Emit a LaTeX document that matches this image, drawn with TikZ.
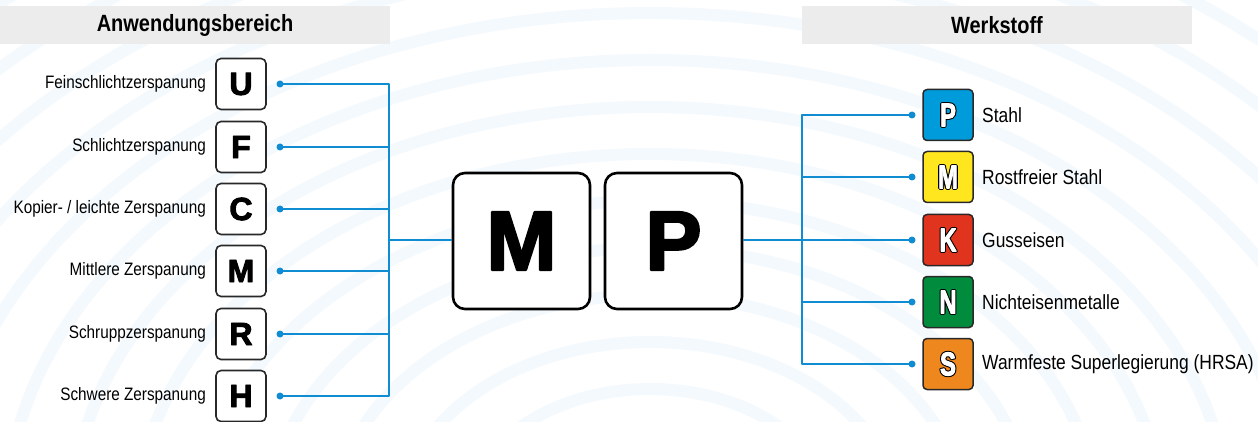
\documentclass[tikz,border=0pt]{standalone}
\usepackage{fontspec}
\setmainfont[FakeStretch=0.85]{Liberation Sans}
\newfontfamily\widefont{Liberation Sans}[BoldFeatures={FakeBold=3}]
\newfontfamily\condA{Liberation Sans}[FakeStretch=0.72, BoldFeatures={FakeBold=2.5}]
\newfontfamily\condB{Liberation Sans}[FakeStretch=0.72, BoldFeatures={FakeBold=9}]
\definecolor{linec}{RGB}{16,140,210}
\definecolor{hdrgray}{RGB}{236,236,236}
\definecolor{bgc}{RGB}{243,249,253}
\definecolor{cP}{RGB}{0,155,219}
\definecolor{cM}{RGB}{255,230,30}
\definecolor{cK}{RGB}{224,52,30}
\definecolor{cN}{RGB}{0,140,60}
\definecolor{cS}{RGB}{238,135,30}
\definecolor{bord}{RGB}{40,40,40}
\newcommand\olt[1]{\fontsize{33}{33}\bfseries\rlap{\condB\color{black}#1}{\condA\color{white}#1}}
\tikzset{
  hdr/.style={fill=hdrgray, minimum width=390pt, minimum height=38pt, inner sep=0pt,
     font=\bfseries\fontsize{23.5}{23.5}\selectfont},
  sbox/.style={draw=bord, line width=1.6pt, rounded corners=5pt, fill=white, line join=round,
     minimum width=50pt, minimum height=51pt, inner sep=0pt,
     font=\widefont\bfseries\fontsize{32}{32}\selectfont},
  bbox/.style={draw=black, line width=2.6pt, rounded corners=12pt, fill=white, line join=round,
     minimum width=137pt, minimum height=136pt, inner sep=0pt,
     font=\widefont\bfseries\fontsize{84}{84}\selectfont},
  cbox/.style={draw=bord, line width=1.5pt, rounded corners=4pt, fill=#1, line join=round,
     minimum width=50pt, minimum height=51pt, inner sep=0pt},
  lab/.style={inner sep=0pt, font=\fontsize{18}{18}\selectfont},
  rlab/.style={inner sep=0pt, font=\fontsize{20.5}{20.5}\selectfont},
  conn/.style={draw=linec, line width=2pt},
  dotc/.style={fill=linec},
  bgline/.style={draw=bgc, line width=12pt}
}
\begin{document}
\begin{tikzpicture}[x=1pt, y=-1pt, line join=round]
\useasboundingbox (0,0) rectangle (1258,422);
\begin{scope}
\clip (0,0) rectangle (1258,422);
\fill[white] (0,0) rectangle (1258,422);
\foreach \r in {131,178,...,760}
  \draw[bgline] (650,520) ellipse [x radius=1.4*\r, y radius=\r];
\end{scope}
% headers
\node[hdr] (h1) at (195,25) {Anwendungsbereich};
\node[hdr] (h2) at (997,25) {Werkstoff};
% left boxes
\node[sbox] (bu) at (241,84) {U};
\node[sbox] (bf) at (241,147) {F};
\node[sbox] (bc) at (241,209) {C};
\node[sbox] (bm2) at (241,271) {M};
\node[sbox] (br) at (241,334) {R};
\node[sbox] (bh) at (241,396) {H};
\node[lab, anchor=east] (lu) at (206,84) {Feinschlichtzerspanung};
\node[lab, anchor=east] (lf) at (206,147) {Schlichtzerspanung};
\node[lab, anchor=east] (lc) at (206,209) {Kopier- / leichte Zerspanung};
\node[lab, anchor=east] (lm) at (206,271) {Mittlere Zerspanung};
\node[lab, anchor=east] (lr) at (206,334) {Schruppzerspanung};
\node[lab, anchor=east] (lh) at (206,396) {Schwere Zerspanung};
% big boxes
\node[bbox] (bigm) at (521.5,241) {M};
\node[bbox] (bigp) at (673.5,241) {P};
% right boxes
\node[cbox=cP] (cp) at (948,115) {\olt{P}};
\node[cbox=cM] (cm) at (948,177) {\olt{M}};
\node[cbox=cK] (ck) at (948,240) {\olt{K}};
\node[cbox=cN] (cn) at (948,302) {\olt{N}};
\node[cbox=cS] (cs) at (948,364) {\olt{S}};
\node[rlab, anchor=west] (tp) at (982,115) {Stahl};
\node[rlab, anchor=west] (tm) at (982,177) {Rostfreier Stahl};
\node[rlab, anchor=west] (tk) at (982,240) {Gusseisen};
\node[rlab, anchor=west] (tn) at (982,302) {Nichteisenmetalle};
\node[rlab, anchor=west] (ts) at (982,364) {Warmfeste Superlegierung (HRSA)};
% connectors left
\coordinate (jl) at (389,240);
\foreach \n/\y in {u/84,f/147,c/209,m/271,r/334,h/396}{
  \coordinate (d\n) at (280,\y);
  \draw[conn] (d\n) -| (jl);
  \fill[dotc] (d\n) circle (3.5pt);
}
\draw[conn] (jl) -- (bigm.west |- jl);
% connectors right
\coordinate (jr) at (802,240);
\draw[conn] (bigp.east |- jr) -- (jr);
\foreach \n/\y in {p/115,m/177,k/240,n/302,s/364}{
  \coordinate (e\n) at (912,\y);
  \draw[conn] (jr) |- (e\n);
  \fill[dotc] (e\n) circle (3.5pt);
}
\end{tikzpicture}
\end{document}
